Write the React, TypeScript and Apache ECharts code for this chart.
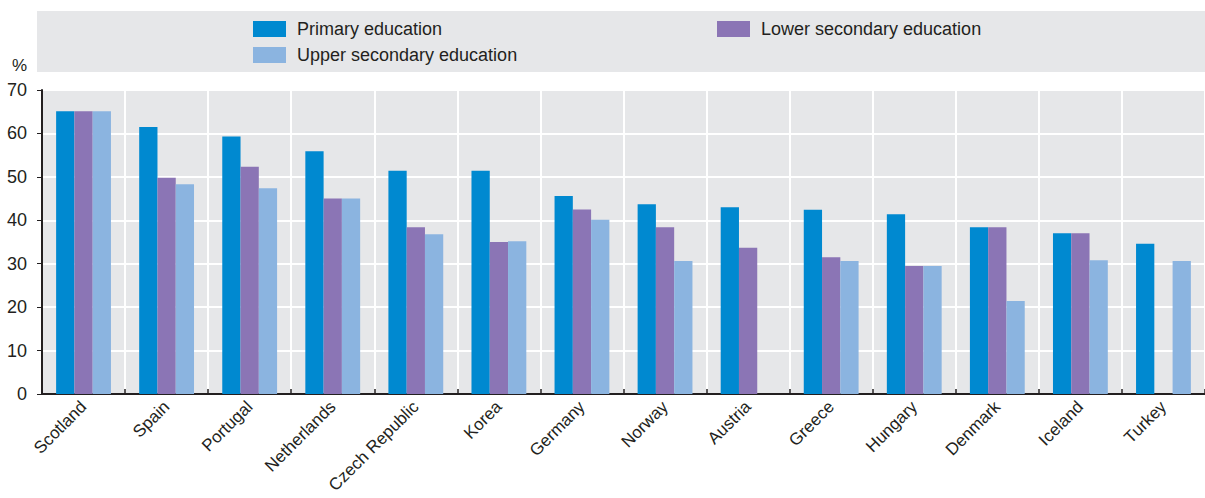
import React, { useEffect, useRef } from "react";
import * as echarts from "echarts";

const categories = ["Scotland", "Spain", "Portugal", "Netherlands", "Czech Republic", "Korea", "Germany", "Norway", "Austria", "Greece", "Hungary", "Denmark", "Iceland", "Turkey"];
const primary = [65.1, 61.5, 59.3, 55.9, 51.4, 51.4, 45.6, 43.7, 43.0, 42.4, 41.4, 38.4, 37.0, 34.6];
const lowerSecondary = [65.1, 49.8, 52.3, 45.0, 38.4, 35.0, 42.5, 38.4, 33.7, 31.5, 29.5, 38.4, 37.0, null];
const upperSecondary = [65.1, 48.3, 47.4, 45.0, 36.8, 35.2, 40.1, 30.6, null, 30.6, 29.5, 21.4, 30.8, 30.6];
const yTicks = [0, 10, 20, 30, 40, 50, 60, 70];

const FONT = "'Liberation Sans Narrow', 'Arial Narrow', 'Liberation Sans', sans-serif";
const TXT = "#231f20";

export default function App() {
  const ref = useRef<HTMLDivElement>(null);
  useEffect(() => {
    document.body.style.margin = "0";
    const chart = echarts.init(ref.current!, null, { renderer: "svg" });
    const legendBase = {
      orient: "horizontal",
      padding: 0,
      itemWidth: 33,
      itemHeight: 16,
      itemGap: 0,
      textStyle: { fontFamily: FONT, fontSize: 18, color: TXT, padding: [0, 0, 0, 6] },
      icon: "rect",
      selectedMode: false,
    };
    chart.setOption({
      animation: false,
      textStyle: { fontFamily: FONT },
      graphic: [
        { type: "rect", shape: { x: 37, y: 11, width: 1168, height: 61 }, style: { fill: "#e6e7e9" }, z: -10, silent: true },
        { type: "text", x: 12, y: 57, style: { text: "%", font: `17px ${FONT}`, fill: TXT } },
      ],
      legend: [
        { ...legendBase, left: 253, top: 20, data: ["Primary education"] },
        { ...legendBase, left: 717, top: 20, data: ["Lower secondary education"] },
        { ...legendBase, left: 253, top: 46, data: ["Upper secondary education"] },
      ],
      grid: {
        left: 42, right: 0, top: 90, bottom: 104,
        containLabel: false, outerBoundsMode: "none",
        show: true, backgroundColor: "#e6e7e9", borderWidth: 0,
      },
      xAxis: {
        type: "category",
        data: categories,
        boundaryGap: true,
        axisLine: { show: true, lineStyle: { color: "#231f20", width: 2 } },
        axisTick: { show: true, inside: true, length: 5, lineStyle: { color: "#231f20", width: 1.5 } },
        splitLine: { show: true, lineStyle: { color: "#ffffff", width: 2 } },
        axisLabel: { rotate: 45, fontFamily: FONT, fontSize: 17, color: TXT, margin: 10, interval: 0 },
      },
      yAxis: {
        type: "value",
        min: 0,
        max: 70,
        interval: 10,
        axisLine: { show: true, lineStyle: { color: "#231f20", width: 2 } },
        axisTick: { show: true, inside: false, length: 5, lineStyle: { color: "#231f20" } },
        splitLine: { show: true, lineStyle: { color: "#ffffff", width: 2 } },
        axisLabel: {
          fontFamily: FONT, fontSize: 18, color: TXT, margin: 15,
          formatter: (v: number) => (yTicks.includes(v) ? String(v) : ""),
        },
      },
      series: [
        { name: "Primary education", type: "bar", data: primary, itemStyle: { color: "#0089d0" }, barGap: "0%", barCategoryGap: "34%" },
        { name: "Lower secondary education", type: "bar", data: lowerSecondary, itemStyle: { color: "#8b75b5" } },
        { name: "Upper secondary education", type: "bar", data: upperSecondary, itemStyle: { color: "#8bb4e0" } },
      ],
    });
    return () => chart.dispose();
  }, []);
  return <div ref={ref} style={{ width: 1205, height: 498 }} />;
}
